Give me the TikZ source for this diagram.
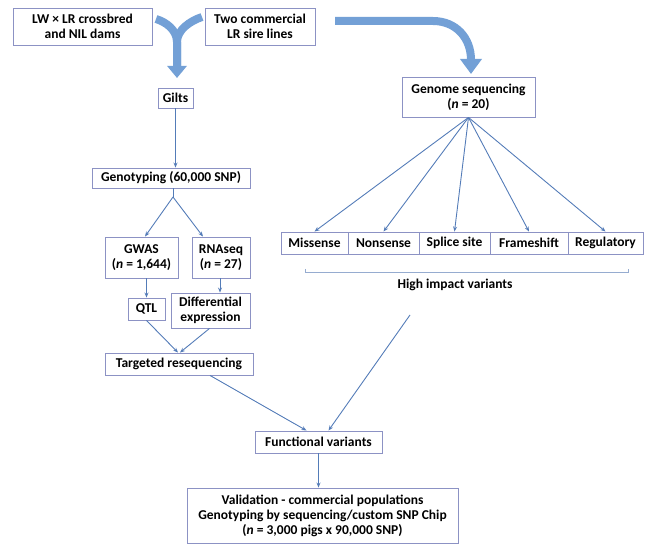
\documentclass[tikz,border=0pt]{standalone}
\usepackage{fontspec}
\setmainfont{Carlito}
\usetikzlibrary{arrows.meta}
\definecolor{boxline}{RGB}{140,146,196}
\definecolor{linkblue}{RGB}{84,124,184}
\definecolor{fatblue}{RGB}{115,160,214}
\definecolor{bracketblue}{RGB}{150,172,208}

\begin{document}
\begin{tikzpicture}[x=1pt,y=-1pt,
	every node/.style={font=\fontsize{13.5}{15}\selectfont\bfseries},
	box/.style={draw=boxline, line width=0.9pt, align=center, inner sep=1pt},
	link/.style={draw=linkblue, line width=0.9pt, -{Stealth[length=5pt,width=4pt]}},
	bigarrow/.style={draw=fatblue, line width=8pt}]
\useasboundingbox (0,0) rectangle (649,545);

% parents
\node[box, minimum width=139pt, minimum height=37pt] (dams) at (82.5,26.5) {LW × LR crossbred\\and NIL dams};
\node[box, minimum width=110pt, minimum height=37pt] (sires) at (260,26.5) {Two commercial\\LR sire lines};

% left branch
\node[box, minimum width=35pt, minimum height=20pt] (gilts) at (175.5,98) {Gilts};
\node[box, minimum width=158pt, minimum height=20pt] (geno) at (171,178) {Genotyping (60,000 SNP)};
\node[box, minimum width=73pt, minimum height=41pt] (gwas) at (141.5,257.5) {GWAS\\(\textit{n} = 1,644)};
\node[box, minimum width=58pt, minimum height=41pt] (rnaseq) at (221,257.5) {RNAseq\\(\textit{n} = 27)};
\node[box, minimum width=37pt, minimum height=22pt] (qtl) at (146.5,309) {QTL};
\node[box, minimum width=79pt, minimum height=35pt] (diffexp) at (210.5,310.5) {Differential\\expression};
\node[box, minimum width=148pt, minimum height=22pt] (targeted) at (179,364) {Targeted resequencing};

% right branch
\node[box, minimum width=133pt, minimum height=40pt] (genome) at (468.5,97) {Genome sequencing\\(\textit{n} = 20)};
\node[box, minimum width=67pt, minimum height=22pt] (missense) at (314.5,243) {Missense};
\node[box, minimum width=71pt, minimum height=22pt] (nonsense) at (383.5,243) {Nonsense};
\node[box, minimum width=71pt, minimum height=22pt] (splice) at (454.5,243) {Splice site};
\node[box, minimum width=78pt, minimum height=22pt] (frameshift) at (529,243) {Frameshift};
\node[box, minimum width=75pt, minimum height=22pt] (regulatory) at (605.5,243) {Regulatory};
\node (impact) at (455,285) {High impact variants};

% bottom
\node[box, minimum width=127pt, minimum height=22pt] (functional) at (318.5,442) {Functional variants};
\node[box, minimum width=271pt, minimum height=55pt] (validation) at (322.5,515.5) {Validation - commercial populations\\Genotyping by sequencing/custom SNP Chip\\(\textit{n} = 3,000 pigs x 90,000 SNP)};

% fat arrows
\draw[bigarrow] (156,19) .. controls (166,22) and (177,30) .. (177,42) -- (177,66);
\draw[bigarrow, -{Triangle[width=19pt,length=12pt]}] (202,17) .. controls (190,21) and (177,30) .. (177,42) -- (177,78);
\draw[bigarrow, -{Triangle[width=21pt,length=15pt]}] (335,21) -- (433,21) .. controls (456,21) and (471,38) .. (471,74);

% thin arrows
\coordinate (split) at (173,197);
\coordinate (impactend) at (410,315);
\draw[link] (gilts.south) -- (gilts.south |- geno.north);
\draw[draw=linkblue, line width=0.9pt] (geno.south -| split) -- (split);
\draw[link] (split) -- ([xshift=3.5]gwas.north);
\draw[link] (split) -- ([xshift=-18]rnaseq.north);
\draw[link] (qtl.south |- gwas.south) -- (qtl.north);
\draw[link] ([xshift=-1]rnaseq.south) -- ([xshift=-1]rnaseq.south |- diffexp.north);
\draw[link] (qtl.south) -- ([xshift=-1]targeted.north);
\draw[link] ([xshift=-1]diffexp.south) -- ([xshift=1]targeted.north);
\foreach \v in {missense,nonsense,splice,frameshift,regulatory}
	\draw[link] (genome.south) -- (\v.north);
\draw[link] ([xshift=31]targeted.south) -- ([xshift=-12]functional.north);
\draw[link] (impactend) -- ([xshift=10]functional.north);
\draw[link] (functional.south) -- (functional.south |- validation.north);

% bracket
\draw[draw=bracketblue, line width=1pt] (305,269) -- (305,273) -- (628,273) -- (628,269);
\end{tikzpicture}
\end{document}
